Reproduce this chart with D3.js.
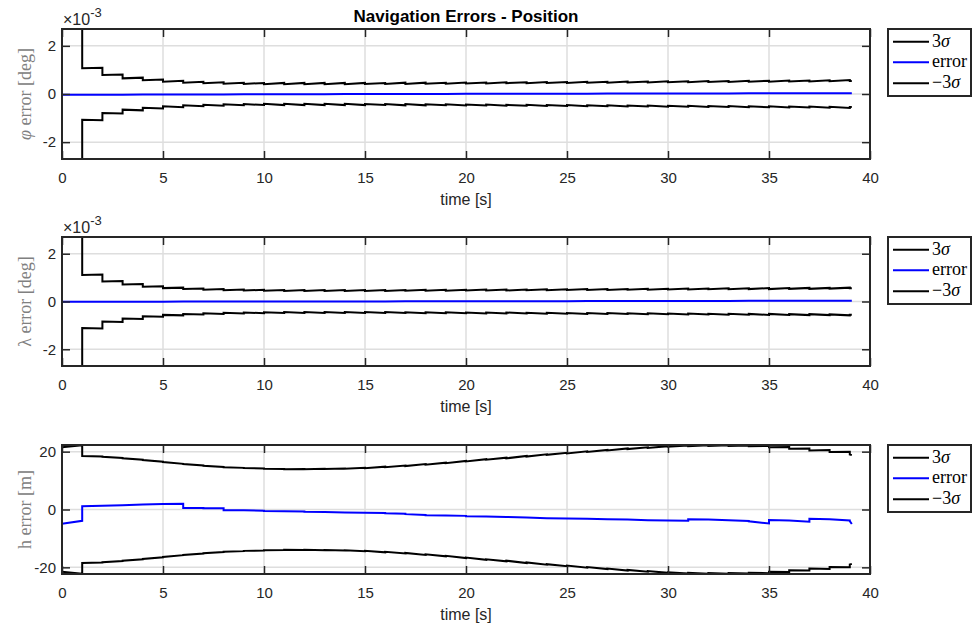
<!DOCTYPE html>
<html>
<head>
<meta charset="utf-8">
<script src="https://cdn.jsdelivr.net/npm/d3@7"></script>
<style>
  html, body { margin: 0; padding: 0; background: #ffffff; }
  svg { display: block; }
</style>
</head>
<body>
<svg id="chart" width="972" height="630"></svg>
<script>
// Navigation filter position errors with their ±3σ envelopes.
// Each series is given per one-second filter cycle:
//   *Post[k] = value right after the update at t = k
//   *Pre[k]  = value just before the next update (t = k+1), last one at t = tEnd
const tEnd = 39.1;

// Latitude (units of 1e-3 deg)
const phiSigmaPost = [9.0, 1.07, 0.79, 0.65, 0.57, 0.51, 0.47, 0.45, 0.43, 0.42, 0.41, 0.41, 0.41, 0.41, 0.41, 0.42, 0.42, 0.42, 0.43, 0.43, 0.44, 0.44, 0.45, 0.45, 0.46, 0.46, 0.47, 0.47, 0.48, 0.48, 0.49, 0.49, 0.50, 0.50, 0.51, 0.51, 0.52, 0.52, 0.53, 0.54];
const phiSigmaPre  = [9.0, 1.09, 0.81, 0.68, 0.60, 0.55, 0.51, 0.49, 0.47, 0.46, 0.46, 0.46, 0.46, 0.46, 0.46, 0.46, 0.47, 0.47, 0.47, 0.48, 0.48, 0.49, 0.49, 0.50, 0.50, 0.51, 0.51, 0.52, 0.52, 0.53, 0.53, 0.54, 0.54, 0.55, 0.55, 0.56, 0.56, 0.57, 0.58, 0.545];
const phiErrPost   = [-0.03, -0.03, -0.03, -0.03, -0.02, -0.02, -0.02, -0.02, -0.02, -0.01, -0.01, -0.01, -0.01, -0.01, 0.00, 0.00, 0.00, 0.00, 0.00, 0.00, 0.01, 0.01, 0.01, 0.01, 0.01, 0.01, 0.01, 0.02, 0.02, 0.02, 0.02, 0.02, 0.02, 0.02, 0.03, 0.03, 0.03, 0.03, 0.03, 0.03];
const phiErrPre    = [-0.03, -0.03, -0.03, -0.02, -0.02, -0.02, -0.02, -0.02, -0.01, -0.01, -0.01, -0.01, -0.01, 0.00, 0.00, 0.00, 0.00, 0.00, 0.00, 0.01, 0.01, 0.01, 0.01, 0.01, 0.01, 0.01, 0.02, 0.02, 0.02, 0.02, 0.02, 0.02, 0.02, 0.03, 0.03, 0.03, 0.03, 0.03, 0.03, 0.03];

// Longitude (units of 1e-3 deg)
const lamSigmaPost = [9.0, 1.11, 0.84, 0.71, 0.62, 0.56, 0.52, 0.49, 0.47, 0.46, 0.45, 0.44, 0.44, 0.44, 0.44, 0.44, 0.44, 0.45, 0.45, 0.45, 0.46, 0.46, 0.46, 0.47, 0.47, 0.48, 0.48, 0.48, 0.49, 0.49, 0.50, 0.50, 0.51, 0.51, 0.52, 0.52, 0.53, 0.53, 0.54, 0.55];
const lamSigmaPre  = [9.0, 1.13, 0.86, 0.73, 0.64, 0.58, 0.54, 0.52, 0.50, 0.49, 0.48, 0.48, 0.48, 0.48, 0.48, 0.48, 0.48, 0.49, 0.49, 0.49, 0.50, 0.50, 0.50, 0.51, 0.51, 0.52, 0.52, 0.52, 0.53, 0.53, 0.54, 0.54, 0.55, 0.55, 0.56, 0.56, 0.57, 0.57, 0.58, 0.55];
const lamErrPost   = [-0.01, -0.01, -0.01, -0.01, -0.01, -0.01, 0.00, 0.00, 0.00, 0.00, 0.00, 0.00, 0.00, 0.00, 0.00, 0.00, 0.00, 0.01, 0.01, 0.01, 0.01, 0.01, 0.01, 0.01, 0.01, 0.01, 0.02, 0.02, 0.02, 0.02, 0.02, 0.02, 0.02, 0.02, 0.03, 0.03, 0.03, 0.03, 0.03, 0.03];
const lamErrPre    = [-0.01, -0.01, -0.01, -0.01, -0.01, 0.00, 0.00, 0.00, 0.00, 0.00, 0.00, 0.00, 0.00, 0.00, 0.00, 0.00, 0.01, 0.01, 0.01, 0.01, 0.01, 0.01, 0.01, 0.01, 0.01, 0.02, 0.02, 0.02, 0.02, 0.02, 0.02, 0.02, 0.02, 0.03, 0.03, 0.03, 0.03, 0.03, 0.03, 0.03];

// Height (m)
const hSigmaPost = [21.5, 18.5, 18.2, 17.7, 17.1, 16.4, 15.7, 15.1, 14.6, 14.3, 14.1, 13.9, 13.9, 14.0, 14.1, 14.3, 14.6, 15.0, 15.5, 16.0, 16.6, 17.2, 17.7, 18.3, 18.9, 19.4, 19.9, 20.4, 20.9, 21.3, 21.7, 21.9, 22.0, 22.0, 21.9, 21.5, 21.0, 20.4, 19.9, 19.0];
const hSigmaPre  = [22.2, 18.3, 17.8, 17.2, 16.5, 15.8, 15.2, 14.7, 14.4, 14.2, 14.0, 14.0, 14.1, 14.2, 14.4, 14.8, 15.2, 15.7, 16.2, 16.8, 17.4, 17.9, 18.5, 19.1, 19.6, 20.1, 20.6, 21.1, 21.5, 21.9, 22.1, 22.2, 22.2, 22.1, 22.0, 21.6, 21.1, 20.6, 20.0, 18.8];
const hErrPost   = [-4.9, 1.1, 1.3, 1.5, 1.7, 1.9, 0.5, 0.4, -0.3, -0.3, -0.5, -0.6, -0.8, -0.9, -1.0, -1.1, -1.3, -1.6, -2.0, -2.1, -2.3, -2.4, -2.6, -2.8, -3.0, -3.1, -3.2, -3.4, -3.5, -3.7, -3.8, -3.4, -3.5, -3.7, -4.1, -3.6, -3.8, -3.2, -3.4, -4.0];
const hErrPre    = [-3.9, 1.3, 1.5, 1.7, 1.9, 2.0, 0.5, 0.4, -0.3, -0.4, -0.6, -0.7, -0.9, -1.0, -1.1, -1.2, -1.5, -1.9, -2.1, -2.2, -2.4, -2.6, -2.8, -3.0, -3.1, -3.2, -3.4, -3.5, -3.7, -3.8, -3.9, -3.5, -3.7, -4.0, -4.8, -3.8, -4.2, -3.4, -3.8, -5.0];

// Axis ticks and text
const xTicks = [0, 5, 10, 15, 20, 25, 30, 35, 40];
const angleTicks = [-2, 0, 2];
const heightTicks = [-20, 0, 20];
const titleText = "Navigation Errors - Position";
const xLabelText = "time [s]";
const legendLabels = [["3", "σ"], ["error"], ["−3", "σ"]];

// ---------------------------------------------------------------------------
const svg = d3.select("#chart");
const L = 62, R = 870;
const axisColor = "#262626";
const gridColor = "#dedede";
const sansFont = "'Liberation Sans', Arial, Helvetica, sans-serif";
const serifFont = "'Liberation Serif', 'Times New Roman', serif";

const x = d3.scaleLinear().domain([0, 40]).range([L, R]);

const panels = [
  { top: 29,  bottom: 159, domain: [-2.7, 2.7],  ticks: angleTicks,  exponent: true,
    ylabel: [["φ", true], [" error [deg]", false]],
    sigmaPost: phiSigmaPost, sigmaPre: phiSigmaPre, errPost: phiErrPost, errPre: phiErrPre },
  { top: 237, bottom: 366, domain: [-2.7, 2.7],  ticks: angleTicks,  exponent: true,
    ylabel: [["λ", false], [" error [deg]", false]],
    sigmaPost: lamSigmaPost, sigmaPre: lamSigmaPre, errPost: lamErrPost, errPre: lamErrPre },
  { top: 445, bottom: 574, domain: [-22.3, 22.3], ticks: heightTicks, exponent: false,
    ylabel: [["h error [m]", false]],
    sigmaPost: hSigmaPost, sigmaPre: hSigmaPre, errPost: hErrPost, errPre: hErrPre }
];

// Turn per-cycle arrays into [t, value] vertices (vertical jump at each update)
function cyclePoints(post, pre, sign) {
  const pts = [];
  post.forEach((v, k) => {
    const tNext = k === post.length - 1 ? tEnd : k + 1;
    pts.push([k, sign * v]);
    pts.push([tNext, sign * pre[k]]);
  });
  return pts;
}

panels.forEach((p, i) => {
  const y = d3.scaleLinear().domain(p.domain).range([p.bottom, p.top]);
  const g = svg.append("g");

  // plot background
  g.append("rect").attr("x", L).attr("y", p.top)
    .attr("width", R - L).attr("height", p.bottom - p.top).attr("fill", "#ffffff");

  // grid
  g.append("g").selectAll("line").data(xTicks.slice(1, -1)).join("line")
    .attr("x1", d => x(d)).attr("x2", d => x(d))
    .attr("y1", p.top).attr("y2", p.bottom)
    .attr("stroke", gridColor).attr("stroke-width", 1.5);
  g.append("g").selectAll("line").data(p.ticks).join("line")
    .attr("x1", L).attr("x2", R)
    .attr("y1", d => y(d)).attr("y2", d => y(d))
    .attr("stroke", gridColor).attr("stroke-width", 1.5);

  // data
  const clipId = "clip" + i;
  svg.append("clipPath").attr("id", clipId).append("rect")
    .attr("x", L - 1).attr("y", p.top - 1)
    .attr("width", R - L + 2).attr("height", p.bottom - p.top + 2);
  const line = d3.line().x(d => x(d[0])).y(d => y(d[1]));
  const dataG = g.append("g").attr("clip-path", `url(#${clipId})`);
  const series = [
    { pts: cyclePoints(p.sigmaPost, p.sigmaPre, 1),  color: "#000000" },
    { pts: cyclePoints(p.errPost, p.errPre, 1),      color: "#0000ff" },
    { pts: cyclePoints(p.sigmaPost, p.sigmaPre, -1), color: "#000000" }
  ];
  dataG.selectAll("path").data(series).join("path")
    .attr("d", d => line(d.pts))
    .attr("fill", "none").attr("stroke", d => d.color)
    .attr("stroke-width", 2).attr("stroke-linejoin", "miter");

  // axes (ticks point inward on all four sides)
  const bottomAxis = g.append("g").attr("transform", `translate(0,${p.bottom})`)
    .call(d3.axisBottom(x).tickValues(xTicks).tickSize(-8).tickPadding(13).tickFormat(d3.format("d")));
  const topAxis = g.append("g").attr("transform", `translate(0,${p.top})`)
    .call(d3.axisTop(x).tickValues(xTicks).tickSize(-8).tickFormat(""));
  const leftAxis = g.append("g").attr("transform", `translate(${L},0)`)
    .call(d3.axisLeft(y).tickValues(p.ticks).tickSize(-8).tickPadding(6).tickFormat(d3.format("d")));
  const rightAxis = g.append("g").attr("transform", `translate(${R},0)`)
    .call(d3.axisRight(y).tickValues(p.ticks).tickSize(-8).tickFormat(""));
  [bottomAxis, topAxis, leftAxis, rightAxis].forEach(a => {
    a.select(".domain").remove();
    a.selectAll(".tick line").attr("stroke", axisColor).attr("stroke-width", 1.5);
    a.selectAll(".tick text").attr("fill", axisColor)
      .style("font-family", sansFont).style("font-size", "15px");
  });
  leftAxis.selectAll(".tick text").text(d => d < 0 ? "-" + Math.abs(d) : String(d));

  // box
  g.append("rect").attr("x", L).attr("y", p.top)
    .attr("width", R - L).attr("height", p.bottom - p.top)
    .attr("fill", "none").attr("stroke", axisColor).attr("stroke-width", 2);

  // x label
  g.append("text").attr("x", (L + R) / 2).attr("y", p.bottom + 46)
    .attr("text-anchor", "middle").attr("fill", axisColor)
    .style("font-family", sansFont).style("font-size", "16px")
    .text(xLabelText);

  // y label
  const yl = g.append("text")
    .attr("transform", `translate(31,${(p.top + p.bottom) / 2}) rotate(-90)`)
    .attr("text-anchor", "middle").attr("fill", "#808080")
    .style("font-family", serifFont).style("font-size", "18px");
  p.ylabel.forEach(([s, it]) => {
    yl.append("tspan").style("font-style", it ? "italic" : "normal").text(s);
  });

  // exponent multiplier
  if (p.exponent) {
    const ex = g.append("text").attr("x", L + 1).attr("y", p.top - 4)
      .attr("fill", axisColor).style("font-family", sansFont).style("font-size", "16px");
    ex.append("tspan").text("×10");
    ex.append("tspan").attr("dy", -8).style("font-size", "13px").text("-3");
  }

  // legend
  const lg = g.append("g").attr("transform", `translate(888,${p.top})`);
  lg.append("rect").attr("width", 83).attr("height", 67)
    .attr("fill", "#ffffff").attr("stroke", axisColor).attr("stroke-width", 2);
  const rowY = [12.7, 33.3, 54.3];
  series.forEach((s, j) => {
    lg.append("line").attr("x1", 5).attr("x2", 41)
      .attr("y1", rowY[j]).attr("y2", rowY[j])
      .attr("stroke", s.color).attr("stroke-width", 2);
    const t = lg.append("text").attr("x", 44).attr("y", rowY[j] + 5)
      .attr("fill", "#000000").style("font-family", serifFont).style("font-size", "18px");
    const parts = legendLabels[j];
    if (parts.length === 1) {
      t.text(parts[0]);
    } else {
      t.append("tspan").text(parts[0]);
      t.append("tspan").style("font-style", "italic").text(parts[1]);
    }
  });
});

// title
svg.append("text").attr("x", (L + R) / 2).attr("y", 22)
  .attr("text-anchor", "middle").attr("fill", "#000000")
  .style("font-family", sansFont).style("font-size", "17px").style("font-weight", "bold")
  .text(titleText);
</script>
</body>
</html>
